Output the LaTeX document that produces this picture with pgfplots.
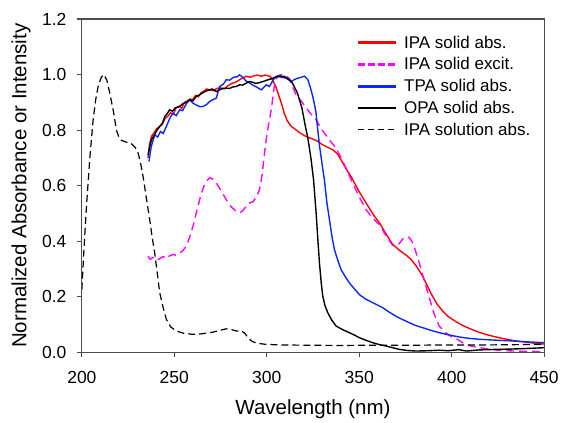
\documentclass[border=0pt]{standalone}
\usepackage{fontspec}
\setmainfont{Liberation Sans}
\usepackage{pgfplots}
\pgfplotsset{compat=1.18}
\usetikzlibrary{calc}

\definecolor{ipared}{RGB}{255,0,0}
\definecolor{ipamag}{RGB}{255,0,255}
\definecolor{tpablue}{RGB}{10,40,245}

\begin{document}
\begin{tikzpicture}
\path (-82pt,-68pt) rectangle (480pt,353pt);
\begin{axis}[
  name=ax,
  scale only axis,
  width=463pt, height=334pt,
  xmin=200, xmax=450, ymin=0, ymax=1.2,
  xtick={200,250,...,450},
  ytick={0,0.2,...,1.2},
  /pgf/number format/assume math mode=true,
  tick align=outside,
  major tick length=5pt,
  xtick pos=left, ytick pos=left,
  axis line style={draw=black!70, line width=1.2pt},
  every tick/.style={draw=black!70, line width=1.2pt},
  tick label style={font=\fontsize{17.5}{20}\selectfont},
  xticklabel style={yshift=-10pt},
  yticklabel style={xshift=-7pt, /pgf/number format/.cd, fixed, fixed zerofill, precision=1},
  label style={font=\fontsize{20.5}{24}\selectfont},
  xlabel={Wavelength (nm)},
  ylabel={Normalized Absorbance or Intensity},
  xlabel style={at={(axis description cs:0.5,0)}, anchor=center, yshift=-57pt},
  ylabel style={at={(axis description cs:0,0.5)}, anchor=center, yshift=61pt},
  legend style={at={(axis description cs:0.594,0.962)}, anchor=north west,
    draw=none, fill=none, font=\fontsize{17}{19}\selectfont,
    row sep=0pt, column sep=3pt, inner sep=0pt, nodes={inner xsep=4pt, inner ysep=4pt}},
  legend cell align=left,
  legend image code/.code={\draw[#1] (0pt,0pt) -- (38pt,0pt);},
]
% IPA solid abs.
\addplot[ipared, line width=1.4pt, legend image post style={line width=2.6pt}] coordinates {
(235.8,0.700) (236.5,0.745) (237.6,0.777) (239,0.790) (240.5,0.805) (242,0.813)
(243.5,0.820) (245,0.842) (246.5,0.850) (248,0.862) (249.5,0.858) (251,0.880)
(252.5,0.886) (254,0.878) (255.5,0.900) (257,0.905) (258.5,0.912) (260,0.910)
(261.5,0.925) (263,0.920) (264.5,0.935) (266,0.940) (267.5,0.948) (269,0.945)
(271,0.942) (273,0.950) (275,0.952) (277,0.948) (279,0.960) (281,0.968)
(283,0.972) (285,0.980) (287,0.988) (289,0.994) (291,0.990) (293,0.995)
(295,0.998) (297,0.994) (299,0.998) (300.5,0.996) (302,0.993) (303.5,0.975)
(305,0.955) (306.5,0.925) (308,0.895) (309.5,0.860) (311,0.835) (313,0.815)
(315,0.805) (318,0.790) (321,0.778) (324,0.770) (327,0.762) (330,0.748)
(333,0.738) (336,0.728) (338.5,0.712) (341,0.683) (343.5,0.655) (346,0.628)
(350,0.578) (354,0.535) (358,0.492) (361,0.466) (364,0.432) (368,0.390)
(372,0.366) (375,0.352) (378,0.335) (381,0.310) (384,0.278) (386.5,0.245)
(389,0.210) (392,0.175) (395,0.150) (398,0.130) (402,0.112) (406,0.097)
(410,0.085) (415,0.072) (420,0.062) (425,0.054) (430,0.047) (435,0.041)
(440,0.037) (445,0.033) (450,0.030)
};
\addlegendentry{IPA solid abs.}
% IPA solid excit.
\addplot[ipamag, line width=1.4pt, dash pattern=on 8pt off 5pt,
  legend image post style={line width=2.6pt, dash pattern=on 7pt off 3pt}] coordinates {
(235.8,0.346) (237,0.335) (238.5,0.342) (240,0.332) (242.1,0.337) (244,0.345)
(245.7,0.338) (247.5,0.348) (249.3,0.352) (251,0.350) (252.9,0.358) (254.5,0.365)
(256.5,0.382) (258.3,0.415) (260.1,0.454) (262,0.505) (263.7,0.550) (265.5,0.590)
(267.3,0.616) (269.1,0.628) (270.5,0.626) (272.7,0.610) (275,0.585) (278.1,0.550)
(281,0.522) (283.5,0.508) (285.3,0.502) (287,0.510) (288.9,0.526) (290.7,0.538)
(292.5,0.542) (294.5,0.560) (296.1,0.586) (297.5,0.640) (298.8,0.718) (299.7,0.765)
(301,0.820) (302.4,0.873) (304.2,0.963) (305.4,0.987) (307,0.998) (308.5,1.000)
(310,0.998) (312.3,0.985) (314,0.955) (316,0.925) (319.5,0.897) (323,0.865)
(326.7,0.837) (330,0.800) (333.9,0.765) (337.5,0.735) (341,0.690) (345.6,0.622)
(350,0.560) (353.7,0.514) (357,0.485) (360.9,0.460) (364.5,0.420) (368.1,0.385)
(370,0.382) (371.7,0.392) (373.5,0.408) (375.3,0.416) (377,0.414) (378.5,0.400)
(380,0.375) (382.5,0.322) (384.5,0.275) (386.1,0.238) (388,0.195) (389.7,0.155)
(391.5,0.122) (393.3,0.095) (396,0.075) (398.7,0.062) (401,0.052) (403.7,0.045)
(407,0.030) (411,0.022) (415.4,0.017) (420,0.012) (425,0.008) (433.4,0.005)
(440,0.004) (450,0.003)
};
\addlegendentry{IPA solid excit.}
% TPA solid abs.
\addplot[tpablue, line width=1.4pt, legend image post style={line width=2.6pt}] coordinates {
(236.3,0.687) (237.5,0.740) (239.4,0.783) (241,0.775) (242.5,0.795) (244,0.788)
(245.7,0.813) (247.5,0.842) (249.3,0.861) (251,0.852) (252.9,0.873) (254.5,0.870)
(256.5,0.895) (258.3,0.909) (260.1,0.897) (262,0.890) (264,0.884) (265.5,0.885)
(267.5,0.892) (269.1,0.903) (271,0.910) (272.7,0.915) (274.5,0.957) (276.5,0.965)
(278.1,0.981) (280,0.980) (282,0.990) (284,0.992) (285.3,0.999) (287,0.990)
(288.9,0.976) (290.7,0.970) (292.5,0.962) (294.5,0.955) (297,0.945) (298.5,0.955)
(299.7,0.963) (301.5,0.957) (303,0.975) (304.2,0.987) (306,0.993) (308,0.990)
(310.5,0.987) (312,0.980) (313.2,0.975) (315,0.982) (316.8,0.987) (318.5,0.990)
(320.4,0.994) (322.2,0.982) (323.5,0.955) (324.9,0.921) (326.5,0.870) (328.5,0.745)
(330.3,0.660) (331.2,0.620) (332.5,0.540) (333.9,0.478) (335.2,0.420) (336.6,0.370)
(338.5,0.330) (340.2,0.298) (342.5,0.272) (344.7,0.250) (347.5,0.228) (350.1,0.208)
(353.5,0.192) (357.3,0.179) (360,0.170) (362.7,0.161) (366,0.146) (369.9,0.130)
(373.5,0.118) (377.1,0.107) (380.5,0.097) (384.3,0.089) (388.5,0.080) (393.3,0.071)
(398.5,0.063) (403.7,0.056) (409,0.051) (415.4,0.047) (424,0.044) (433.4,0.041)
(441,0.038) (450,0.035)
};
\addlegendentry{TPA solid abs.}
% OPA solid abs.
\addplot[black, line width=1.4pt, legend image post style={line width=2.6pt}] coordinates {
(235.8,0.711) (236.7,0.740) (237.6,0.765) (239,0.780) (240.5,0.798) (242.1,0.813)
(243.5,0.825) (245,0.850) (246,0.858) (247.5,0.873) (249,0.868) (250.5,0.880)
(252.9,0.885) (254.5,0.895) (256.5,0.900) (258.3,0.909) (260,0.905) (262,0.922)
(263.7,0.927) (265.5,0.935) (267,0.940) (269.1,0.945) (270.5,0.948) (272.7,0.939)
(274.5,0.945) (276,0.950) (278.1,0.951) (280,0.950) (281.5,0.955) (283.5,0.957)
(285.3,0.963) (287,0.962) (288.9,0.969) (290.7,0.975) (292.5,0.972) (294,0.968)
(296.1,0.971) (298,0.975) (300.6,0.981) (303.3,0.987) (306,0.995) (308,0.994)
(309.6,0.993) (311,0.987) (312.3,0.981) (313.8,0.970) (315,0.955) (316.5,0.935)
(317.7,0.909) (319,0.880) (319.9,0.849) (321,0.810) (322.2,0.772) (323.2,0.730)
(324,0.693) (325.3,0.622) (326.7,0.502) (327.6,0.410) (328.5,0.322) (329.4,0.255)
(330.3,0.202) (331.5,0.168) (333,0.143) (335,0.118) (337.5,0.095) (341,0.082)
(344.7,0.071) (347.5,0.062) (350.1,0.053) (353.5,0.044) (357.3,0.035) (361,0.028)
(364.5,0.023) (368,0.017) (371.7,0.011) (376,0.007) (380.7,0.005) (387,0.006)
(393.3,0.008) (398,0.006) (403.7,0.010) (408,0.005) (415,0.009) (424.4,0.011)
(432,0.012) (440,0.014) (450,0.017)
};
\addlegendentry{OPA solid abs.}
% IPA solution abs.
\addplot[black, line width=1.2pt, dash pattern=on 7pt off 4pt,
  legend image post style={line width=1.1pt, dash pattern=on 6pt off 4pt}] coordinates {
(200,0.226) (201.2,0.380) (202.5,0.526) (204.3,0.700) (206.1,0.837) (207.5,0.910)
(208.8,0.957) (210.5,0.990) (211.9,1.000) (213.5,0.980) (215.1,0.933) (217,0.870)
(218.7,0.800) (220,0.775) (221.4,0.763) (224,0.757) (226.8,0.751) (228.8,0.738)
(230.4,0.718) (231.8,0.680) (233.1,0.634) (235,0.550) (236.7,0.478) (238,0.415)
(239.4,0.358) (240.8,0.285) (242.1,0.215) (244,0.160) (245.7,0.119) (248,0.092)
(251.1,0.077) (255,0.069) (260.1,0.065) (265,0.067) (270.9,0.073) (275,0.080)
(278.1,0.085) (281,0.082) (283.5,0.077) (286,0.078) (288,0.070) (290,0.052)
(292,0.040) (294.3,0.034) (297,0.031) (299.7,0.029) (306.9,0.027) (320,0.026)
(340,0.025) (360,0.026) (380,0.026) (400,0.027) (420,0.027) (450,0.029)
};
\addlegendentry{IPA solution abs.}
\end{axis}
% frame and ticks
\draw[black!70, line width=1.2pt] (ax.south west) rectangle (ax.north east);
\foreach \i in {0,...,5}
  \draw[black!70, line width=1.2pt] ($(ax.south west)!\i/5!(ax.south east)$) -- ++(0,-5pt);
\foreach \i in {0,...,6}
  \draw[black!70, line width=1.2pt] ($(ax.south west)!\i/6!(ax.north west)$) -- ++(-5pt,0);
\end{tikzpicture}
\end{document}
